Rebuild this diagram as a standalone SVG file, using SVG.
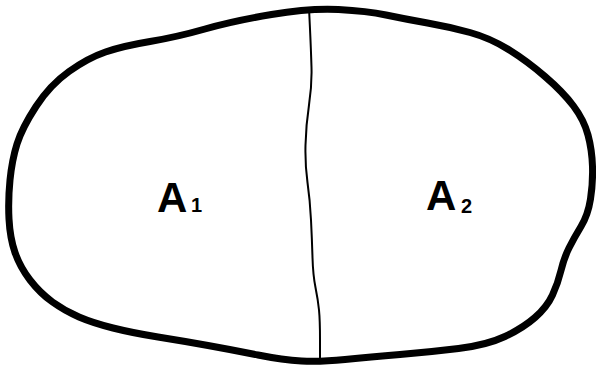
<svg xmlns="http://www.w3.org/2000/svg" width="596" height="370" viewBox="0 0 596 370">
<style>
.outline{fill:none;stroke:#000;stroke-width:7;stroke-linejoin:round}
.divider{fill:none;stroke:#000;stroke-width:2}
.lbl{font-family:"Liberation Sans",Arial,sans-serif;font-weight:bold;fill:#000}
.main{font-size:42px}
.sub{font-size:20px}
</style>
<rect width="596" height="370" fill="#fff"/>
<g id="outline">
<path class="outline" d="M271.5,14.5 Q310,8 338.5,9.5 Q367,11 386,15 Q405,19 427.5,23 Q450,27 470,32.5 Q490,38 508.5,49.5 Q527,61 545,76.5 Q563,92 573.5,106 Q584,120 588,135 Q592,150 592.5,166.5 Q593,183 590.5,199 Q588,215 581,226.5 Q574,238 569,248 Q564,258 561,270.5 Q558,283 552.5,295 Q547,307 535,317.5 Q523,328 505,336.5 Q487,345 458.5,348.5 Q430,352 400,354.5 Q370,357 345,359.5 Q320,362 301.5,361 Q283,360 258,355 Q233,350 208,345.5 Q183,341 158,337 Q133,333 113,328 Q93,323 79,317 Q65,311 52.5,302 Q40,293 30,280 Q20,267 15,252.5 Q10,238 9,219 Q8,200 10,180 Q12,160 17,144 Q22,128 36,106.5 Q50,85 69,71.5 Q88,58 105.5,52 Q123,46 150,41.5 Q177,37 205,29 Q233,21 271.5,14.5 Z"/>
</g>
<g id="connectors">
<path class="divider" d="M309,8 L310,29 Q311,50 311.5,67.5 Q312,85 309,105 Q306,125 305.5,145 Q305,165 307.5,182.5 Q310,200 311,220 Q312,240 312.5,257.5 Q313,275 315.5,287.5 Q318,300 319,310 Q320,320 320,340 L320,361"/>
</g>
<g id="region-A1">
<text class="lbl main" x="157" y="212">A</text>
<text class="lbl sub" x="191" y="212">1</text>
</g>
<g id="region-A2">
<text class="lbl main" x="426" y="210">A</text>
<text class="lbl sub" x="461" y="213">2</text>
</g>
</svg>
